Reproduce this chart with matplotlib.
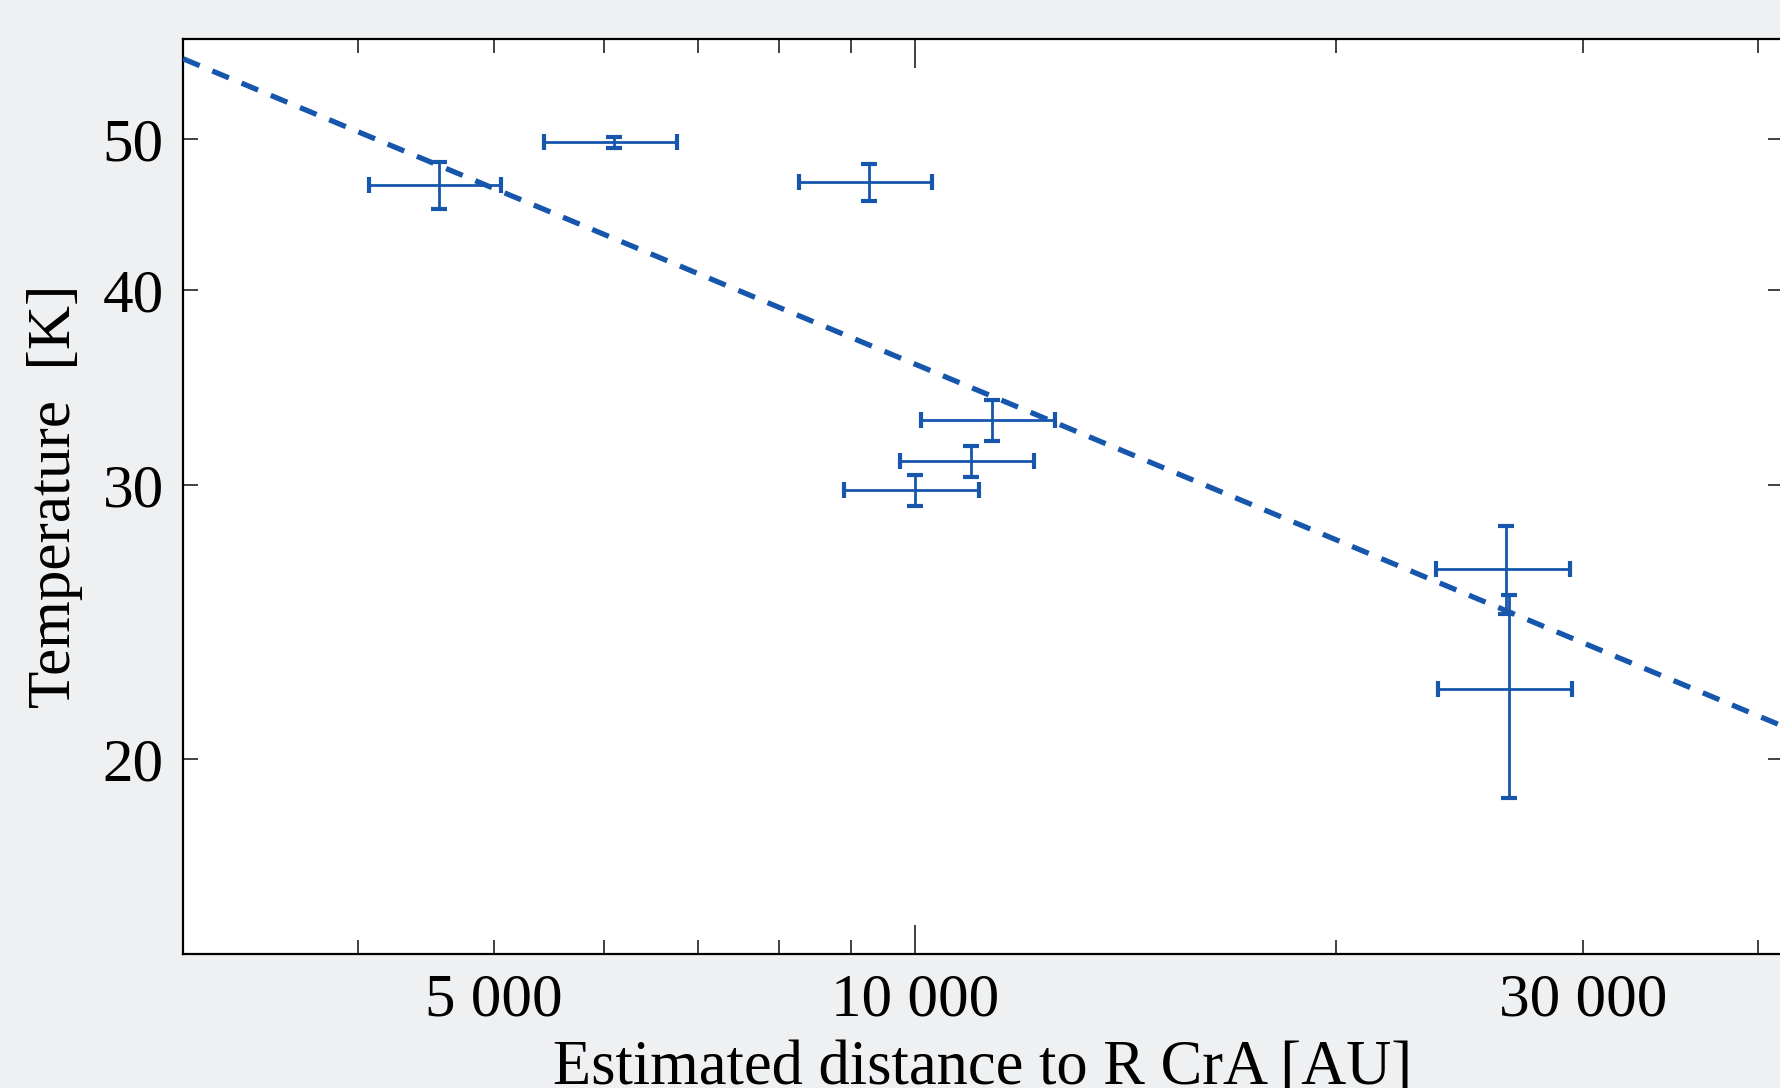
"""Temperature vs. projected distance to R CrA (log-log) with power-law fit."""
import matplotlib

matplotlib.use("Agg")
import matplotlib.pyplot as plt  # noqa: E402
from matplotlib.ticker import FixedLocator, FixedFormatter, NullFormatter  # noqa: E402

# Measured points: distance [AU] and temperature [K] with 1-sigma errors
distance = [4570, 6100, 9270, 11350, 10960, 10000, 26460, 26560]
distance_err = [495, 665, 1010, 1245, 1210, 1105, 2900, 2900]
temperature = [46.7, 49.75, 46.9, 33.0, 31.07, 29.75, 26.5, 22.2]
temperature_err = [1.6, 0.38, 1.3, 1.0, 0.7, 0.69, 1.73, 3.3]

# Power-law fit (straight line in log-log): end points
fit_distance = [3000, 41700]
fit_temperature = [56.3, 21.0]

x_major = [10000]
x_minor = [4000, 5000, 6000, 7000, 8000, 9000, 20000, 30000, 40000]
x_minor_labels = ["", "5 000", "", "", "", "", "", "30 000", ""]
y_ticks = [20, 30, 40, 50]

BLUE = "#1656ad"
BG = "#eff0f2"

plt.rcParams["font.family"] = ["Liberation Serif", "DejaVu Serif"]

fig = plt.figure(figsize=(17.81, 10.88), dpi=100, facecolor=BG)
ax = fig.add_axes([0.1028, 0.1232, 0.8983, 0.8413])
ax.set_facecolor("white")

ax.plot(fit_distance, fit_temperature, color=BLUE, lw=3.8,
        linestyle=(0, (3.4, 2.6)), zorder=3)
ax.errorbar(distance, temperature, xerr=distance_err, yerr=temperature_err,
            fmt="none", ecolor=BLUE, elinewidth=2.0, capsize=6, capthick=3.0,
            zorder=4)

ax.set_xscale("log")
ax.set_yscale("log")
ax.set_xlim(3000, 41700)
ax.set_ylim(15, 58)

ax.xaxis.set_major_locator(FixedLocator(x_major))
ax.xaxis.set_major_formatter(FixedFormatter(["10 000"]))
ax.xaxis.set_minor_locator(FixedLocator(x_minor))
ax.xaxis.set_minor_formatter(FixedFormatter(x_minor_labels))
ax.yaxis.set_major_locator(FixedLocator(y_ticks))
ax.yaxis.set_major_formatter(FixedFormatter([str(v) for v in y_ticks]))
ax.yaxis.set_minor_locator(FixedLocator([]))
ax.yaxis.set_minor_formatter(NullFormatter())

ax.tick_params(which="both", direction="in", top=True, right=True,
               labelsize=44, color="#333333", width=1.3, pad=14)
ax.tick_params(axis="x", which="major", length=21)
ax.tick_params(axis="x", which="minor", length=10)
ax.tick_params(axis="y", which="major", length=11)

for s in ax.spines.values():
    s.set_linewidth(1.6)

ax.set_xlabel("Estimated distance to R CrA [AU]", fontsize=45, labelpad=8)
ax.set_ylabel("Temperature  [K]", fontsize=44, labelpad=14)

fig.savefig("out.png", dpi=100, facecolor=BG)
